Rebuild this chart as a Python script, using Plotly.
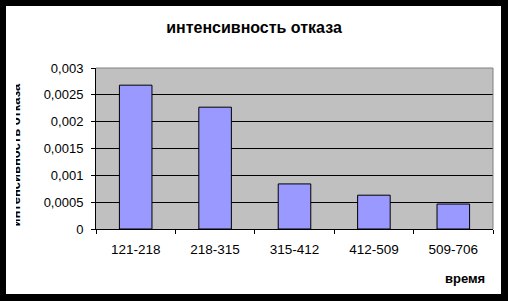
import plotly.graph_objects as go

categories = ["121-218", "218-315", "315-412", "412-509", "509-706"]
values = [0.00268, 0.00227, 0.00084, 0.00063, 0.000465]
y_tickvals = [0, 0.0005, 0.001, 0.0015, 0.002, 0.0025, 0.003]
y_ticktext = ["0", "0,0005", "0,001", "0,0015", "0,002", "0,0025", "0,003"]
title_text = "интенсивность отказа"
x_title = "время"
y_title = "интенсивность отказа"

W, H = 508, 301
L, R, T, B = 96, 15, 68, 72
PW, PH = W - L - R, H - T - B


def px(x):
    return (x - L) / PW


def py(y):
    return (H - B - y) / PH


font = "Liberation Sans, Arial, sans-serif"

fig = go.Figure(go.Bar(
    x=categories, y=values,
    marker=dict(color="#9999FF", line=dict(color="black", width=1)),
))

shapes = [
    dict(type="line", xref="paper", yref="paper", x0=0, x1=1, y0=1, y1=1,
         line=dict(color="#808080", width=1), layer="above"),
    dict(type="line", xref="paper", yref="paper", x0=1, x1=1, y0=0, y1=1,
         line=dict(color="#808080", width=1), layer="above"),
]
for (x0, y0, x1, y1) in [(0, 0, 6, H), (501, 0, W, H), (0, 0, W, 6), (0, 294, W, H)]:
    shapes.append(dict(type="rect", xref="paper", yref="paper",
                       x0=px(x0), x1=px(x1), y0=py(y1), y1=py(y0),
                       fillcolor="black", line=dict(width=0), layer="above"))

annotations = [
    dict(text=y_title, textangle=-90, xref="paper", yref="paper",
         x=px(14.5), y=py(155), xanchor="center", yanchor="middle", showarrow=False,
         font=dict(family=font, size=13, color="black", weight="bold")),
    dict(text=" ", xref="paper", yref="paper", x=px(6), y=py(72),
         xanchor="left", yanchor="top", width=10, height=170, bgcolor="white",
         borderpad=0, borderwidth=0, showarrow=False),
    dict(text=x_title, xref="paper", yref="paper", x=px(465), y=py(278),
         xanchor="center", yanchor="middle", showarrow=False,
         font=dict(family=font, size=13, color="black", weight="bold")),
]

fig.update_layout(
    width=W, height=H,
    margin=dict(l=L, r=R, t=T, b=B, pad=0),
    paper_bgcolor="white", plot_bgcolor="#C0C0C0",
    bargap=0.59, showlegend=False,
    title=dict(text=title_text, x=254 / W, xref="container", xanchor="center",
               y=1 - 27 / H, yref="container", yanchor="middle",
               font=dict(family=font, size=16, color="black", weight="bold")),
    xaxis=dict(type="category", range=[-0.5, 4.5], tickson="boundaries",
               ticks="outside", ticklen=4, tickcolor="black", tickwidth=1,
               showline=True, linecolor="black", linewidth=1, showgrid=False,
               ticklabelstandoff=8,
               tickfont=dict(family=font, size=13.5, color="black")),
    yaxis=dict(range=[0, 0.003], tickvals=y_tickvals, ticktext=y_ticktext,
               ticks="outside", ticklen=4, tickcolor="black", tickwidth=1,
               showline=True, linecolor="black", linewidth=1,
               showgrid=True, gridcolor="black", gridwidth=1, zeroline=False,
               ticklabelstandoff=5,
               tickfont=dict(family=font, size=13, color="black")),
    shapes=shapes, annotations=annotations,
)

fig.write_html("out.html")
